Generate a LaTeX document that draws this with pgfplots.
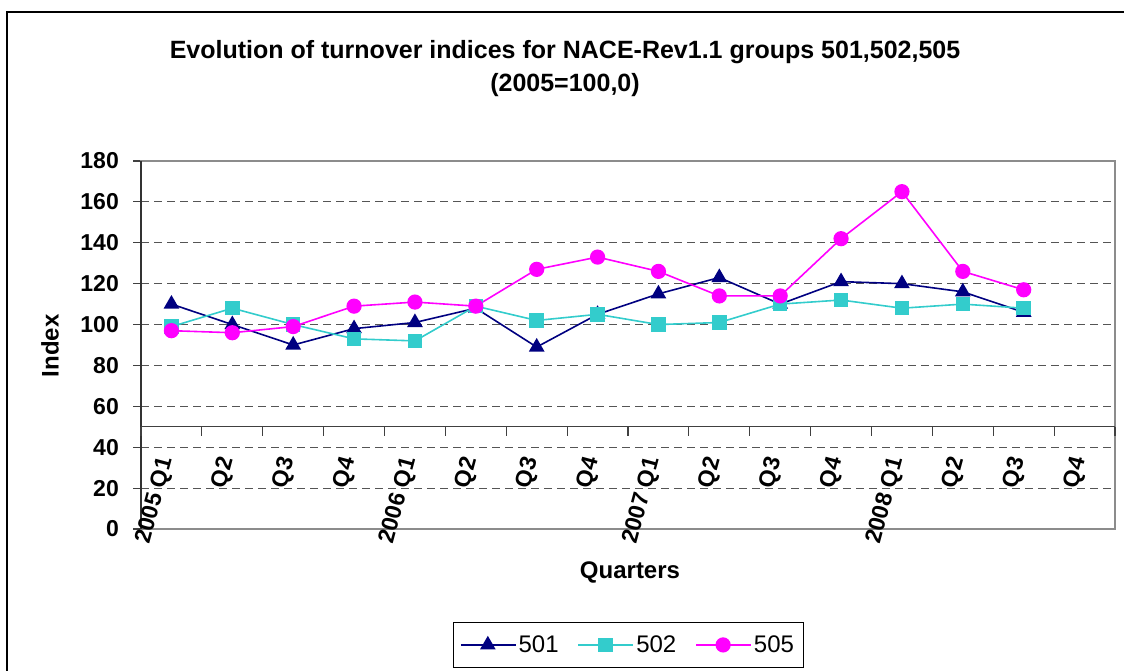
\documentclass[border=0pt]{standalone}
\usepackage{pgfplots}
\pgfplotsset{compat=1.18}
\usepackage{fontspec}
\setmainfont{Liberation Sans}
\definecolor{c501}{HTML}{000080}
\definecolor{c502}{HTML}{33CCCC}
\definecolor{c505}{HTML}{FF00FF}
\definecolor{gridc}{HTML}{555555}
\definecolor{framec}{HTML}{8C8C8C}
\begin{document}
\begin{tikzpicture}
\useasboundingbox (0pt,0pt) rectangle (1124pt,671pt);
\draw[black, line width=1.6pt] (7pt,0pt) -- (7pt,659pt) -- (1124pt,659pt);
\node[font=\fontsize{25}{25}\selectfont\bfseries] at (565pt,619pt) {Evolution of turnover indices for NACE-Rev1.1 groups 501,502,505};
\node[font=\fontsize{25}{25}\selectfont\bfseries] at (565pt,586pt) {(2005=100,0)};
\node[font=\fontsize{24}{24}\selectfont\bfseries, rotate=90] at (50pt,325pt) {Index};
\node[font=\fontsize{24}{24}\selectfont\bfseries] at (630pt,99pt) {Quarters};
\begin{axis}[
  at={(141pt,142pt)}, anchor=south west, scale only axis,
  width=974pt, height=368pt,
  xmin=0, xmax=16, ymin=0, ymax=180,
  xtick=\empty,
  ytick={0,20,...,180}, ytick pos=left, tick align=outside,
  major tick length=8pt,
  y tick style={draw=black!75, line width=1.2pt},
  /pgf/number format/assume math mode=true,
  yticklabel style={font=\fontsize{23}{23}\selectfont\bfseries, inner sep=0pt, xshift=-14pt},
  ymajorgrids,
  grid style={draw=gridc, dash pattern=on 8pt off 5pt, line width=1.1pt},
  axis line style={draw=framec, line width=1.4pt},
  clip=false,
  legend columns=3,
  legend style={at={(0.5,-0.315)}, anchor=center, draw=black, line width=0.8pt,
    font=\fontsize{24}{24}\selectfont, inner xsep=7pt, inner ysep=11pt,
    /tikz/every even column/.append style={column sep=17pt}},
  legend image code/.code={\draw[mark repeat=2,mark phase=2,#1] plot coordinates {(0pt,0pt) (27pt,0pt) (55pt,0pt)};},
]
\draw[black!80, line width=1.6pt] (rel axis cs:0,0) -- (rel axis cs:0,1);
\addplot[c501, line width=1.6pt, mark=triangle*, mark size=7.5pt, mark options={solid}] coordinates {
(0.5,110) (1.5,100) (2.5,90) (3.5,98) (4.5,101) (5.5,108) (6.5,89) (7.5,105)
(8.5,115) (9.5,123) (10.5,110) (11.5,121) (12.5,120) (13.5,116) (14.5,106)};
\addlegendentry{501}
\addplot[c502, line width=1.6pt, mark=square*, mark size=6.5pt] coordinates {
(0.5,99) (1.5,108) (2.5,100) (3.5,93) (4.5,92) (5.5,109) (6.5,102) (7.5,105)
(8.5,100) (9.5,101) (10.5,110) (11.5,112) (12.5,108) (13.5,110) (14.5,108)};
\addlegendentry{502}
\addplot[c505, line width=1.6pt, mark=*, mark size=6.8pt] coordinates {
(0.5,97) (1.5,96) (2.5,99) (3.5,109) (4.5,111) (5.5,109) (6.5,127) (7.5,133)
(8.5,126) (9.5,114) (10.5,114) (11.5,142) (12.5,165) (13.5,126) (14.5,117)};
\addlegendentry{505}
\end{axis}
\begin{axis}[
  at={(141pt,244.2pt)}, anchor=south west, scale only axis,
  width=974pt, height=50pt,
  xmin=0, xmax=16, ymin=0, ymax=1,
  axis x line=bottom, axis y line=none,
  x axis line style={-, draw=black!75, line width=1.4pt},
  xtick={0.5,1.5,...,15.5},
  xticklabels={2005 Q1,Q2,Q3,Q4,2006 Q1,Q2,Q3,Q4,2007 Q1,Q2,Q3,Q4,2008 Q1,Q2,Q3,Q4},
  major tick length=0pt,
  minor xtick={0,1,...,16},
  minor tick length=9pt,
  tick align=outside,
  minor x tick style={draw=black!75, line width=1.2pt},
  xticklabel style={font=\fontsize{23}{23}\selectfont\bfseries, xshift=-5pt, yshift=-31pt, rotate=75, anchor=east, inner sep=0pt},
]
\end{axis}
\end{tikzpicture}
\end{document}
